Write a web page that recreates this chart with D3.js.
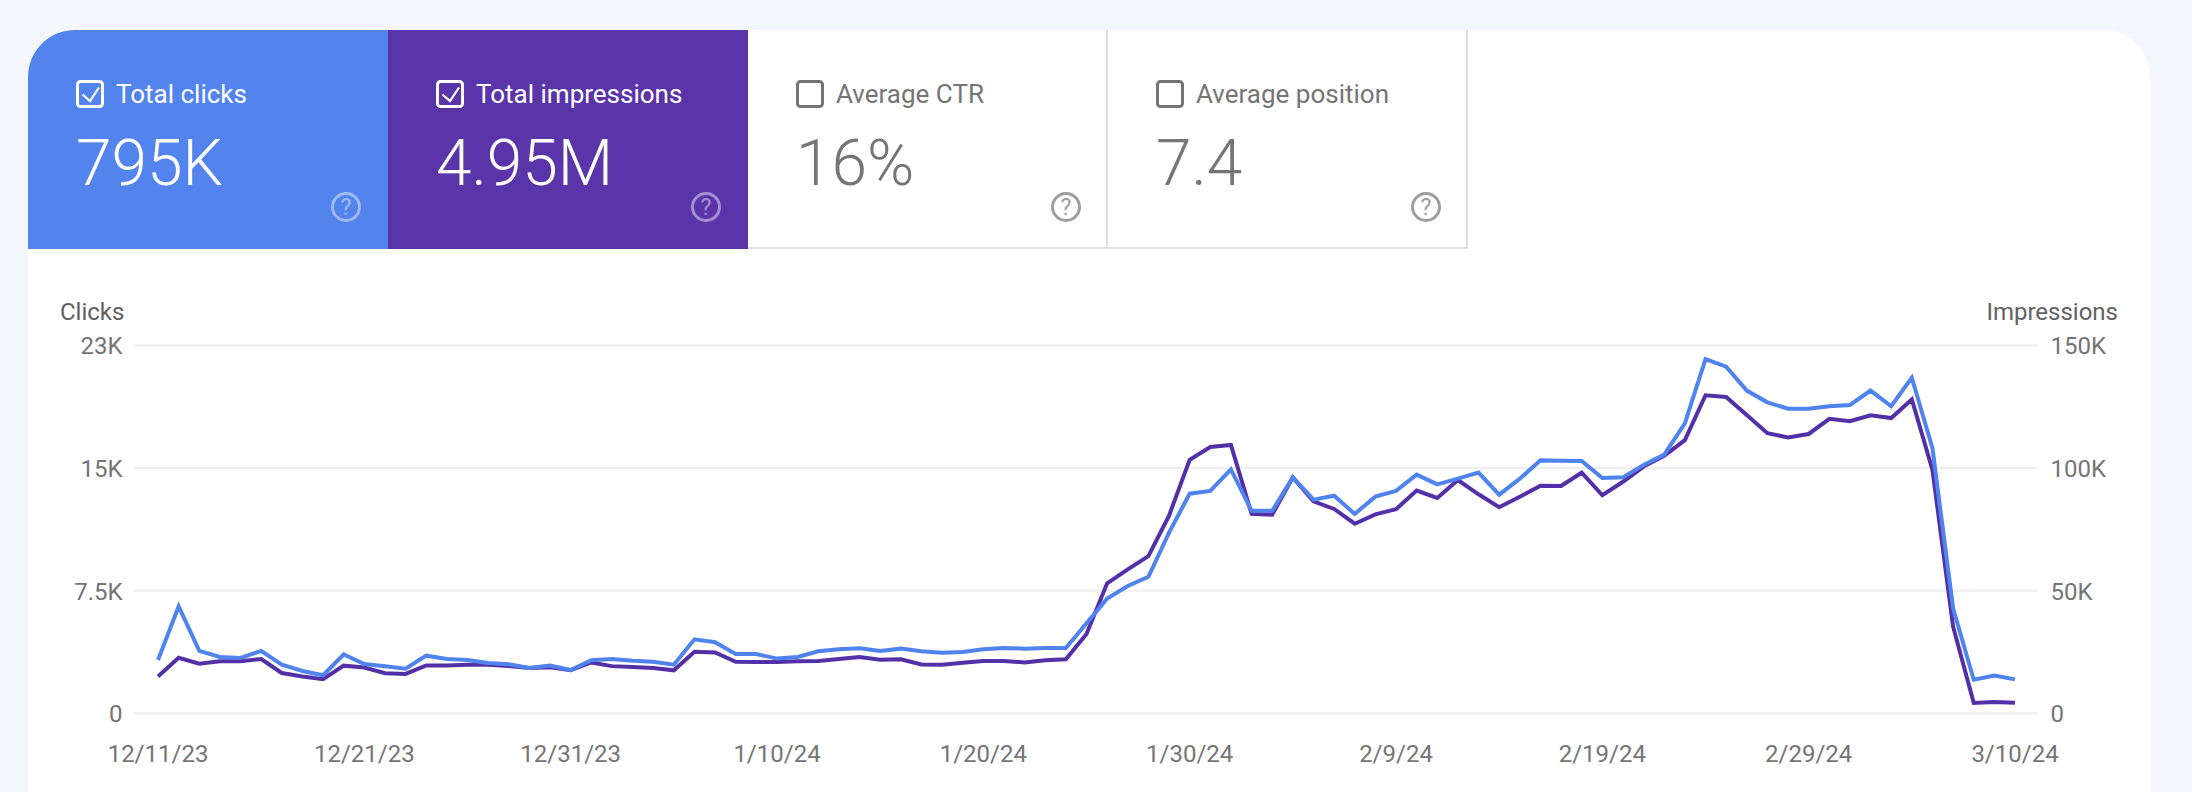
<!DOCTYPE html>
<html>
<head>
<meta charset="utf-8">
<script src="https://cdn.jsdelivr.net/npm/d3@7"></script>
<style>
  html, body { margin: 0; padding: 0; background: #f3f6fb; overflow: hidden; }
  svg { display: block; font-family: Roboto, sans-serif; }
  .axis path { display: none; }
  .axis text { fill: #757575; font-size: 24px; font-family: Roboto, sans-serif; }
  .grid line { stroke: #eeeeee; stroke-width: 2px; }
</style>
</head>
<body>
<script>
var tileLabels = ["Total clicks", "Total impressions", "Average CTR", "Average position"];
var tileValues = ["795K", "4.95M", "16%", "7.4"];
var tileColors = ["#5383ec", "#5935a9", "#ffffff", "#ffffff"];
var tileChecked = [true, true, false, false];

var clicksTicks = [0, 7500, 15000, 22500];
var clicksTickLabels = ["0", "7.5K", "15K", "23K"];
var impressionsTicks = [0, 50000, 100000, 150000];
var impressionsTickLabels = ["0", "50K", "100K", "150K"];
var dateTickLabels = ["12/11/23", "12/21/23", "12/31/23", "1/10/24", "1/20/24", "1/30/24", "2/9/24", "2/19/24", "2/29/24", "3/10/24"];

// daily values, 12/11/23 to 3/10/24
var clicks = [3220, 6500, 3780, 3410, 3350, 3780, 2940, 2550, 2290, 3560,
  2980, 2840, 2690, 3490, 3290, 3230, 3040, 2960, 2740, 2880,
  2610, 3210, 3290, 3180, 3120, 2940, 4490, 4310, 3590, 3590,
  3310, 3410, 3760, 3880, 3940, 3780, 3920, 3760, 3670, 3710,
  3880, 3960, 3920, 3960, 3960, 5470, 6980, 7750, 8320, 11020,
  13400, 13570, 14890, 12360, 12360, 14400, 13040, 13280, 12160, 13220,
  13570, 14570, 13970, 14320, 14690, 13340, 14320, 15440, 15420, 15400,
  14360, 14400, 15160, 15790, 17710, 21640, 21170, 19710, 18990, 18600,
  18600, 18750, 18830, 19710, 18750, 20500, 16180, 6390, 2020, 2270, 2040];

var impressions = [14800, 22400, 20000, 21000, 21000, 21900, 16200, 14800, 13700, 19200,
  18400, 16100, 15800, 19300, 19300, 19600, 19600, 19000, 18200, 18500,
  17300, 20500, 19000, 18600, 18200, 17300, 24900, 24600, 20800, 20700,
  20700, 21000, 21100, 21900, 22700, 21600, 21800, 19700, 19600, 20400,
  21100, 21100, 20500, 21400, 21800, 32100, 52800, 58500, 63900, 80400,
  103200, 108400, 109200, 81100, 80800, 96000, 86200, 83100, 77100, 80900,
  83000, 90600, 87600, 94900, 89100, 83800, 88100, 92600, 92500, 97900,
  88700, 94200, 100400, 104800, 111200, 129500, 128800, 121400, 114000, 112300,
  113700, 119900, 118900, 121300, 120200, 127800, 99000, 35100, 4000, 4400, 4100];

var width = 2192, height = 792;
var plot = {left: 133.6, right: 2037.6, top: 345, bottom: 712.7};
var firstX = 158, lastX = 2015;

var svg = d3.select("body").append("svg")
  .attr("width", width)
  .attr("height", height);

// white card, runs past the bottom of the page
svg.append("rect")
  .attr("x", 28).attr("y", 30)
  .attr("width", 2122).attr("height", 860)
  .attr("rx", 47)
  .attr("fill", "#ffffff");

svg.append("clipPath").attr("id", "card")
  .append("rect")
  .attr("x", 28).attr("y", 30)
  .attr("width", 2122).attr("height", 860)
  .attr("rx", 47);

// metric tiles
var tileX = d3.scaleBand().domain(d3.range(tileLabels.length)).range([28, 1468]);
var tileTop = 30, tileBottom = 249;

var tiles = svg.append("g").attr("clip-path", "url(#card)")
  .selectAll("g")
  .data(tileLabels)
  .enter().append("g")
  .attr("transform", function(d, i) { return "translate(" + tileX(i) + "," + tileTop + ")"; });

tiles.append("rect")
  .attr("width", tileX.bandwidth())
  .attr("height", tileBottom - tileTop)
  .attr("fill", function(d, i) { return tileColors[i]; });

// border on the unselected tiles
tiles.filter(function(d, i) { return !tileChecked[i]; })
  .append("path")
  .attr("d", "M0," + (tileBottom - tileTop - 1) + "H359V0")
  .attr("fill", "none")
  .attr("stroke", "#e0e0e0")
  .attr("stroke-width", 2);

function inkColor(i) { return tileChecked[i] ? "#ffffff" : "#757575"; }

tiles.append("rect")
  .attr("x", 49.5).attr("y", 51.5)
  .attr("width", 25).attr("height", 25)
  .attr("rx", 3)
  .attr("fill", "none")
  .attr("stroke", function(d, i) { return inkColor(i); })
  .attr("stroke-width", 3);

tiles.filter(function(d, i) { return tileChecked[i]; })
  .append("path")
  .attr("d", "M54.5,64.5L62,71L71,57.5")
  .attr("fill", "none")
  .attr("stroke", "#ffffff")
  .attr("stroke-width", 2.2);

tiles.append("text")
  .attr("x", 88).attr("y", 73)
  .attr("font-size", 26)
  .attr("fill", function(d, i) { return inkColor(i); })
  .text(function(d) { return d; });

tiles.append("text")
  .attr("x", 48).attr("y", 155)
  .attr("font-size", 64)
  .attr("font-weight", 350)
  .attr("fill", function(d, i) { return inkColor(i); })
  .text(function(d, i) { return tileValues[i]; });

// help icon
var help = tiles.append("g")
  .attr("transform", "translate(318,177)")
  .attr("opacity", function(d, i) { return tileChecked[i] ? 0.45 : 1; });

help.append("circle")
  .attr("r", 13.5)
  .attr("fill", "none")
  .attr("stroke", function(d, i) { return tileChecked[i] ? "#ffffff" : "#9e9e9e"; })
  .attr("stroke-width", 3);

help.append("text")
  .attr("text-anchor", "middle")
  .attr("y", 8)
  .attr("font-size", 23)
  .attr("font-weight", 400)
  .attr("fill", function(d, i) { return tileChecked[i] ? "#ffffff" : "#9e9e9e"; })
  .text("?");

// scales
var dates = d3.utcDay.range(new Date(Date.UTC(2023, 11, 11)), new Date(Date.UTC(2024, 2, 11)));
var parseDate = d3.utcParse("%m/%d/%y");

var x = d3.scaleUtc()
  .domain(d3.extent(dates))
  .range([firstX, lastX]);
var yClicks = d3.scaleLinear()
  .domain([0, 22500])
  .range([plot.bottom, plot.top]);
var yImpressions = d3.scaleLinear()
  .domain([0, 150000])
  .range([plot.bottom, plot.top]);

// axes, the left one also draws the grid
svg.append("g")
  .attr("class", "axis grid")
  .attr("transform", "translate(" + plot.left + ",0)")
  .call(d3.axisLeft(yClicks)
    .tickValues(clicksTicks)
    .tickFormat(function(d, i) { return clicksTickLabels[i]; })
    .tickSize(-(plot.right - plot.left))
    .tickPadding(11))
  .selectAll("text").attr("dy", "0.37em");

svg.append("g")
  .attr("class", "axis")
  .attr("transform", "translate(" + plot.right + ",0)")
  .call(d3.axisRight(yImpressions)
    .tickValues(impressionsTicks)
    .tickFormat(function(d, i) { return impressionsTickLabels[i]; })
    .tickSize(0)
    .tickPadding(13))
  .selectAll("text").attr("dy", "0.37em");

svg.append("g")
  .attr("class", "axis")
  .attr("transform", "translate(-0.5," + (plot.bottom + 32) + ")")
  .call(d3.axisBottom(x)
    .tickValues(dateTickLabels.map(parseDate))
    .tickFormat(function(d, i) { return dateTickLabels[i]; })
    .tickSize(0)
    .tickPadding(0));

svg.append("text")
  .attr("x", 60).attr("y", 320)
  .attr("font-size", 24)
  .attr("fill", "#616161")
  .text("Clicks");

svg.append("text")
  .attr("x", 2118).attr("y", 320)
  .attr("text-anchor", "end")
  .attr("font-size", 24)
  .attr("fill", "#616161")
  .text("Impressions");

// lines, impressions under clicks
var impressionsLine = d3.line()
  .x(function(d, i) { return x(dates[i]); })
  .y(function(d) { return yImpressions(d); });
var clicksLine = d3.line()
  .x(function(d, i) { return x(dates[i]); })
  .y(function(d) { return yClicks(d); });

svg.append("path")
  .attr("d", impressionsLine(impressions))
  .attr("fill", "none")
  .attr("stroke", "#5430a8")
  .attr("stroke-width", 4);

svg.append("path")
  .attr("d", clicksLine(clicks))
  .attr("fill", "none")
  .attr("stroke", "#4f83ee")
  .attr("stroke-width", 4);
</script>
</body>
</html>
